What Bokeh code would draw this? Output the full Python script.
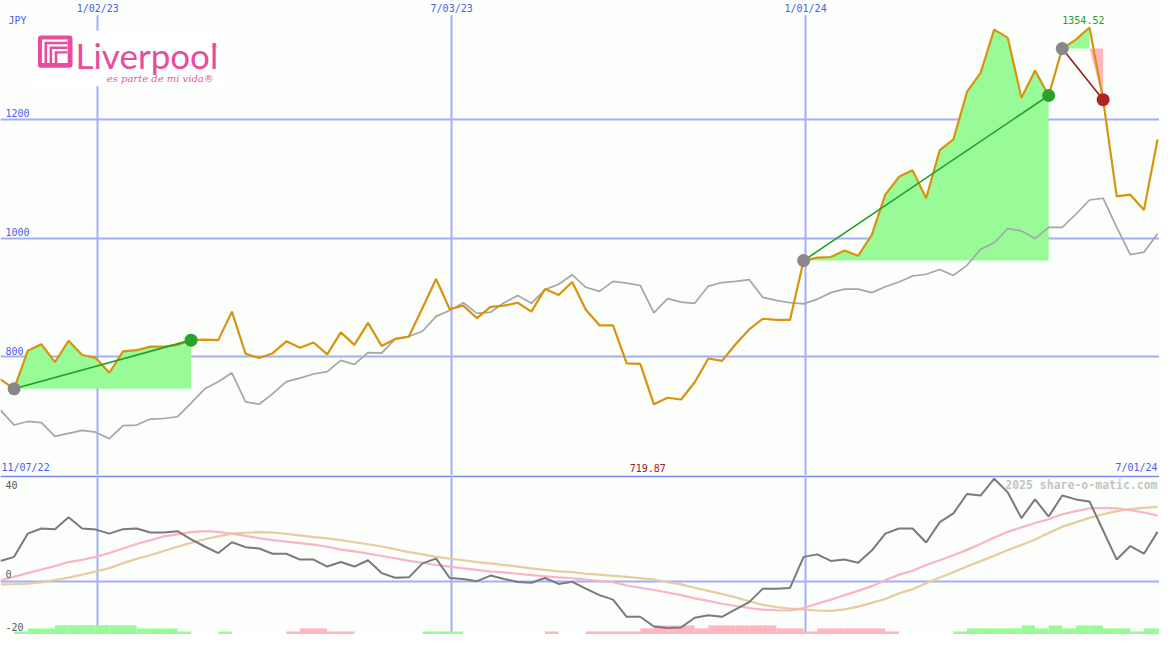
import numpy as np
import pandas as pd
from bokeh.plotting import figure
from bokeh.layouts import column
from bokeh.models import Range1d, FixedTicker, Label, BoxAnnotation
from bokeh.embed import file_html
from bokeh.resources import INLINE

# ---------------- data (weekly) ----------------
first_week = "2022-11-13"
last_day = "2024-07-01"
currency = "JPY"
start_label = "11/07/22"
end_label = "7/01/24"

price = [762, 746, 810, 821, 791, 827, 803, 798, 773, 809,
         811, 817, 817, 820, 828, 829, 828, 876, 805, 798,
         806, 826, 815, 824, 804, 841, 820, 857, 818, 830,
         834, 882, 931, 880, 886, 865, 884, 886, 891, 876,
         914, 904, 926, 879, 853, 853, 789, 788, 719.87, 731,
         728, 757, 797, 793, 821, 846, 864, 862, 862, 962,
         967, 968, 979, 970, 1005, 1073, 1103, 1114, 1067, 1148,
         1166, 1246, 1278, 1351, 1337, 1236, 1282, 1240, 1319, 1334,
         1354.52, 1233, 1070, 1073, 1047, 1166]

relative = [710, 685, 691, 689, 666, 671, 676, 673, 662, 684,
            685, 695, 696, 699, 722, 746, 758, 773, 724, 720,
            738, 758, 764, 771, 775, 794, 787, 807, 806, 830,
            834, 843, 868, 878, 891, 873, 875, 891, 903, 890,
            913, 922, 938, 917, 910, 927, 924, 920, 874, 898,
            892, 890, 919, 925, 927, 930, 900, 895, 891, 889,
            897, 908, 914, 914, 908, 918, 926, 936, 939, 947,
            937, 954, 981, 992, 1016, 1012, 999, 1018, 1018, 1040,
            1064, 1067, 1018, 972, 976, 1007]

momentum = [9.0, 10.8, 21.1, 23.4, 23.1, 28.4, 23.4, 22.9, 21.1, 23.1,
            23.4, 21.6, 21.6, 22.2, 18.6, 15.4, 12.5, 17.3, 15.1, 14.5,
            12.2, 12.2, 9.6, 9.6, 6.5, 8.5, 6.5, 9.3, 3.6, 1.5,
            1.7, 7.9, 10.0, 1.4, 1.0, 0.0, 2.5, 1.0, -0.4, -0.7,
            1.4, -1.2, -0.3, -3.3, -6.2, -8.2, -15.8, -15.8, -20.1, -20.8,
            -20.5, -16.2, -15.1, -15.8, -12.5, -9.3, -3.3, -3.3, -3.0, 10.8,
            11.9, 9.0, 9.6, 8.2, 13.6, 21.1, 23.4, 23.4, 17.2, 26.2,
            30.1, 38.7, 38.0, 45.5, 39.4, 28.0, 36.3, 28.7, 38.0, 36.3,
            35.4, 22.5, 9.6, 15.6, 12.2, 21.9]

ma_fast = [0.4, 2.0, 3.6, 5.2, 6.7, 8.5, 9.5, 10.8, 12.5, 14.5,
           16.5, 18.2, 19.9, 20.8, 21.8, 22.2, 21.9, 21.1, 20.1, 19.1,
           18.2, 17.6, 16.9, 16.2, 15.3, 14.0, 13.2, 12.2, 11.2, 10.2,
           9.0, 8.2, 7.2, 6.5, 5.7, 5.0, 4.3, 3.9, 3.3, 2.7,
           2.2, 1.7, 1.3, 0.7, 0.1, -0.4, -1.9, -2.9, -3.9, -5.0,
           -6.2, -7.6, -8.7, -10.0, -11.0, -11.9, -12.6, -12.9, -13.0, -11.9,
           -10.0, -8.2, -6.2, -4.3, -2.2, 0.4, 2.9, 4.6, 7.2, 9.3,
           11.5, 13.9, 16.5, 19.4, 21.9, 23.9, 25.8, 27.5, 29.7, 31.1,
           32.3, 32.5, 32.3, 31.5, 30.5, 29.1]

ma_slow = [-1.4, -1.3, -1.1, -0.5, 0.5, 1.6, 2.9, 4.3, 5.8, 8.0,
           9.9, 11.5, 13.4, 15.3, 17.0, 18.6, 19.9, 21.1, 21.5, 21.8,
           21.6, 21.0, 20.3, 19.6, 19.0, 18.2, 17.3, 16.4, 15.4, 14.2,
           12.9, 11.9, 10.8, 10.0, 9.3, 8.5, 7.9, 7.2, 6.5, 5.7,
           5.0, 4.4, 4.0, 3.3, 2.9, 2.4, 1.9, 1.3, 0.7, -0.4,
           -1.4, -2.9, -4.3, -5.7, -7.2, -8.9, -10.5, -11.5, -12.2, -12.6,
           -13.0, -13.2, -12.5, -11.3, -9.6, -7.9, -5.4, -3.6, -0.9, 1.6,
           4.0, 6.5, 8.9, 11.3, 13.8, 16.1, 18.5, 21.4, 24.2, 26.1,
           28.1, 29.7, 31.1, 32.0, 32.5, 33.0]

signal = [0, 1, 2, 2, 3, 3, 3, 3, 3, 3,
          2, 2, 2, 1, 0, 0, 1, 0, 0, 0,
          0, -1, -2, -2, -1, -1, 0, 0, 0, 0,
          0, 1, 1, 1, 0, 0, 0, 0, 0, 0,
          -1, 0, 0, -1, -1, -1, -1, -2, -3, -3,
          -3, -2, -3, -3, -3, -3, -3, -2, -2, -1,
          -2, -2, -2, -2, -2, -1, 0, 0, 0, 0,
          1, 2, 2, 2, 2, 3, 2, 3, 2, 3,
          3, 2, 2, 1, 2, 2]

trade_entries = [1, 59, 78]
trade_exits = [14, 77, 81]

grid_dates = ["2023-01-02", "2023-07-03", "2024-01-01"]
grid_date_labels = ["1/02/23", "7/03/23", "1/01/24"]
price_ticks = [800, 1000, 1200]
osc_ticks = [40, 0, -20]

n = len(price)
for arr in (relative, momentum, ma_fast, ma_slow, signal):
    assert len(arr) == n, len(arr)

# ---------------- styling ----------------
W, H1, H2 = 1159, 475, 159
BG = "#fbfefb"
GRID = "#a4aef6"
SEP = "#7a88ea"
BLUE_TXT = "#4a5cf0"
MONO = "DejaVu Sans Mono"
ORANGE = "#d8940e"
LOGO_PINK = "#e84c9c"

to_ms = lambda d: pd.Timestamp(d).value / 1e6
dates = pd.date_range(first_week, periods=n, freq="7D")
xs = np.array([to_ms(d) for d in dates])
WEEK = 7 * 24 * 3600 * 1000.0
X0, X1 = to_ms(first_week), to_ms(last_day)
P0, P1 = 600, 1400

def px_x(px):
    return X0 + (X1 - X0) * px / 1175.0

def py_top(py):
    return P1 - (P1 - P0) * py / 487.0

def py_bot(py):
    return (595 - py) / 2.325

price_a = np.array(price, dtype=float)

# ---------------- top panel ----------------
p1 = figure(width=W, height=H1, x_axis_type="datetime",
            x_axis_location=None, y_axis_location=None,
            x_range=Range1d(X0, X1), y_range=Range1d(P0, P1),
            output_backend="svg", toolbar_location=None,
            min_border=0, background_fill_color=BG, border_fill_color=BG,
            outline_line_color=None)
p1.xgrid.ticker = FixedTicker(ticks=[to_ms(d) for d in grid_dates])
p1.ygrid.ticker = FixedTicker(ticks=price_ticks)
for g in (p1.xgrid, p1.ygrid):
    g.grid_line_color = GRID
    g.grid_line_width = 2

# trade fills
for a, b in zip(trade_entries, trade_exits):
    entry = price_a[a]
    g_end = a
    while g_end + 1 <= b and price_a[g_end + 1] >= entry:
        g_end += 1
    if g_end > a:
        seg = slice(a, g_end + 1)
        p1.varea(x=xs[seg], y1=np.full(g_end - a + 1, entry),
                 y2=np.maximum(price_a[seg], entry), fill_color="#98fb98")
    if g_end < b:
        seg = slice(g_end, b + 1)
        p1.varea(x=xs[seg], y1=np.full(b - g_end + 1, entry),
                 y2=np.minimum(price_a[seg], entry), fill_color="#ffb6c1")

p1.line(xs, relative, line_color="#a6a6a6", line_width=1.7)
p1.line(xs, price, line_color=ORANGE, line_width=2.2)

for a, b in zip(trade_entries, trade_exits):
    win = price_a[b] >= price_a[a]
    p1.segment(x0=[xs[a]], y0=[price_a[a]], x1=[xs[b]], y1=[price_a[b]],
               line_color="#24a024" if win else "#9a1c1c", line_width=1.6)
    p1.scatter([xs[a]], [price_a[a]], size=13, fill_color="#888888", line_color=None)
    p1.scatter([xs[b]], [price_a[b]], size=13,
               fill_color="#2ba02b" if win else "#b22222", line_color=None)

# top strip (gap above grid lines)
p1.add_layout(BoxAnnotation(bottom=py_top(15), fill_color=BG, fill_alpha=1,
                            line_color=None))

# logo
p1.add_layout(BoxAnnotation(left=px_x(30), right=px_x(228), top=py_top(31),
                            bottom=py_top(88), fill_color="#ffffff", fill_alpha=1,
                            line_color=None))
p1.add_layout(BoxAnnotation(left=px_x(38), right=px_x(73), top=py_top(36),
                            bottom=py_top(69), fill_color=LOGO_PINK, fill_alpha=1,
                            line_color=None, border_radius=3))
for i in range(7):
    p1.add_layout(BoxAnnotation(left=px_x(42 + 2.6 * i), right=px_x(68),
                                top=py_top(40 + 2.4 * i), bottom=py_top(64),
                                fill_color="#ffffff" if i % 2 == 0 else LOGO_PINK,
                                fill_alpha=1, line_color=None))
p1.add_layout(Label(x=px_x(76), y=py_top(56), text="Liverpool",
                    text_font="Lato", text_font_size="35px",
                    text_color=LOGO_PINK, text_baseline="alphabetic"))
p1.add_layout(Label(x=px_x(214), y=py_top(47), text="®", text_font="Lato",
                    text_font_size="8px", text_color=LOGO_PINK,
                    text_baseline="middle"))
p1.add_layout(Label(x=px_x(162), y=py_top(80), text="es parte de mi vida®",
                    text_font="DejaVu Serif", text_font_style="italic",
                    text_font_size="10px", text_color="#e25aa0",
                    text_align="center", text_baseline="alphabetic"))

# texts
def lab(fig, x, y, text, color=BLUE_TXT, align="left", size="10px", style="normal",
        level="annotation"):
    fig.add_layout(Label(x=x, y=y, text=text, text_font=MONO, text_font_size=size,
                         text_color=color, text_align=align, text_baseline="middle",
                         text_font_style=style, level=level))

lab(p1, px_x(8), py_top(20), currency)
for d, t in zip(grid_dates, grid_date_labels):
    lab(p1, to_ms(d), py_top(8), t, align="center")
for t in price_ticks:
    lab(p1, px_x(5), t + 6 * (P1 - P0) / 487.0, str(t))
lab(p1, px_x(1), py_top(479), start_label)
lab(p1, px_x(1173), py_top(479), end_label, align="right")
imin = int(np.argmin(price_a))
imax = int(np.argmax(price_a))
lab(p1, xs[imin] - 0.45 * WEEK, py_top(479), f"{price_a[imin]:.2f}", color="#a01c1c",
    align="center")
lab(p1, xs[imax] - 0.45 * WEEK, py_top(20.5), f"{price_a[imax]:.2f}", color="#28a028",
    align="center")

# ---------------- bottom panel ----------------
B0, B1 = py_bot(650), py_bot(488)
p2 = figure(width=W, height=H2, x_axis_type="datetime",
            x_axis_location=None, y_axis_location=None,
            x_range=p1.x_range, y_range=Range1d(B0, B1),
            output_backend="svg", toolbar_location=None,
            min_border=0, min_border_top=2, background_fill_color=BG,
            border_fill_color=SEP, outline_line_color=None)
p2.xgrid.ticker = FixedTicker(ticks=[to_ms(d) for d in grid_dates])
p2.ygrid.ticker = FixedTicker(ticks=[0])
for g in (p2.xgrid, p2.ygrid):
    g.grid_line_color = GRID
    g.grid_line_width = 2

lab(p2, px_x(1173), py_bot(496), "2025 share-o-matic.com", color="#c4c4c4",
    align="right", size="11.5px", style="bold", level="underlay")

sig = np.array(signal, dtype=float)
mask = sig != 0
p2.quad(left=xs[mask], right=xs[mask] + WEEK, bottom=B0,
        top=B0 + np.abs(sig[mask]) * 1.35,
        fill_color=np.where(sig[mask] > 0, "#98fb98", "#ffb6c1"), line_color=None)

p2.line(xs, ma_slow, line_color="#e6cc9e", line_width=2.2)
p2.line(xs, ma_fast, line_color="#f9b4c8", line_width=2.2)
p2.line(xs, momentum, line_color="#7a7a7a", line_width=2)

for t, py in zip(osc_ticks, [496, 588, 642]):
    lab(p2, px_x(5), py_bot(py), str(t), color="#5a5a5a")

layout = column(p1, p2, spacing=0)
open("out.html", "w").write(file_html(layout, INLINE))
